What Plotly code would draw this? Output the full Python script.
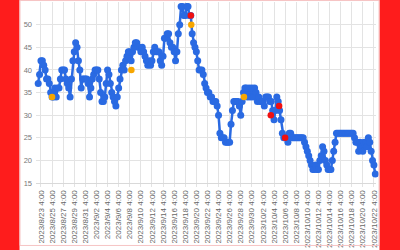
import pandas as pd
import plotly.graph_objects as go

# ---- data (6-hour steps starting 2023-08-22 16:00) ----
start_time = "2023-08-22 16:00"
values = [
    37, 39,
    42, 42, 41, 40,   38, 38, 37, 35,   34, 34, 36, 34,   36, 36, 38, 40,
    40, 40, 38, 37,   36, 34, 38, 42,   44, 46, 45, 42,   40, 36, 38, 38,
    38, 38, 37, 34,   36, 38, 39, 40,   40, 40, 38, 35,   33, 33, 34, 37,
    40, 39, 37, 35,   34, 33, 32, 34,   36, 38, 40, 41,   40, 42, 43, 44,
    44, 42, 44, 45,   46, 46, 45, 45,   44, 45, 44, 43,   42, 41, 42, 41,
    42, 44, 45, 44,   44, 44, 42, 41,   43, 47, 47, 48,   48, 46, 45, 45,
    44, 42, 44, 48,   50, 54, 54, 52,   52, 54, 54, 52,   52, 48, 46, 45,
    44, 42, 40, 40,   40, 39, 37, 36,   35, 35, 34, 34,   33, 33, 33, 32,
    30, 26, 25, 25,   25, 24, 24, 24,   24, 28, 31, 33,   33, 33, 33, 32,
    30, 33, 35, 36,   36, 34, 36, 34,   36, 34, 36, 35,   33, 34, 33, 33,
    33, 32, 34, 34,   34, 33, 33, 31,   29, 31, 34, 33,   31, 29, 26, 25,
    25, 25, 24, 26,   26, 25, 25, 25,   25, 25, 25, 25,   25, 25, 24, 23,
    22, 21, 20, 19,   18, 18, 19, 18,   18, 20, 21, 23,   22, 20, 19, 18,
    18, 18, 20, 22,   24, 26, 26, 26,   26, 26, 26, 26,   26, 26, 26, 26,
    26, 26, 25, 24,   24, 22, 24, 23,   22, 24, 24, 23,   25, 24, 22, 20,
    19, 17,
]
red_times = ["2023-09-19 04:00", "2023-10-03 14:00", "2023-10-05 02:00", "2023-10-06 04:00"]
red_values = [52, 30, 32, 25]
orange_times = ["2023-08-25 04:00", "2023-09-08 11:00", "2023-09-19 06:00", "2023-09-28 18:00"]
orange_values = [34, 40, 50, 34]
tick_dates = pd.date_range("2023-08-23 04:00", "2023-10-22 04:00", freq="2D")
tick_labels = [f"{d.year}/{d.month}/{d.day} {d.hour}:{d.minute:02d}" for d in tick_dates]

times = pd.date_range(start_time, periods=len(values), freq="6h")

BLUE = "#2a6ae2"
fig = go.Figure()
fig.add_trace(go.Scatter(
    x=times, y=values, mode="lines+markers",
    line=dict(color=BLUE, width=2.5),
    marker=dict(color=BLUE, size=7),
    cliponaxis=False, showlegend=False,
))
fig.add_trace(go.Scatter(
    x=orange_times, y=orange_values, mode="markers",
    marker=dict(color="#f7a600", size=6.5), cliponaxis=False, showlegend=False,
))
fig.add_trace(go.Scatter(
    x=red_times, y=red_values, mode="markers",
    marker=dict(color="#f01010", size=6.5), cliponaxis=False, showlegend=False,
))

L, R, T, B = 36, 24, 2, 64
W, H = 400, 250
pw, ph = W - L - R, H - T - B
def px2x(px):
    return (px - L) / pw
def py2y(py):
    return (H - B - py) / ph

shapes = [
    dict(type="rect", xref="paper", yref="paper", x0=px2x(-2), x1=px2x(19.5),
         y0=py2y(260), y1=py2y(-10), fillcolor="#fe1c1c", line=dict(width=0), layer="above"),
    dict(type="rect", xref="paper", yref="paper", x0=px2x(379.5), x1=px2x(402),
         y0=py2y(260), y1=py2y(-10), fillcolor="#fe1c1c", line=dict(width=0), layer="above"),
    dict(type="rect", xref="paper", yref="paper", x0=px2x(20), x1=px2x(379),
         y0=py2y(249.5), y1=py2y(0.5), fillcolor="rgba(0,0,0,0)",
         line=dict(color="#f6c4c4", width=1), layer="above"),
]

fig.update_layout(
    width=W, height=H,
    margin=dict(l=L, r=R, t=T, b=B, pad=0),
    paper_bgcolor="white", plot_bgcolor="white",
    shapes=shapes,
    font=dict(family="Liberation Sans", color="#6b6b6b"),
)
fig.update_xaxes(
    type="date",
    range=["2023-08-22 06:30", "2023-10-22 13:00"],
    tickvals=list(tick_dates), ticktext=tick_labels,
    tickangle=-90, tickfont=dict(size=8, color="#666666"),
    showgrid=True, gridcolor="#e3e3e3", gridwidth=1,
    ticks="outside", ticklen=3, tickcolor="#e3e3e3",
    showline=True, linecolor="#d9d9d9", zeroline=False,
)
fig.update_yaxes(
    range=[15, 55], tickvals=[15, 20, 25, 30, 35, 40, 45, 50],
    ticktext=["15", "20", "25", "30", "35", "40", "45", "50"],
    tickfont=dict(size=7.5, color="#777777"),
    showgrid=True, gridcolor="#e3e3e3", gridwidth=1,
    showline=False, zeroline=False, ticks="", ticklabelstandoff=3,
)

fig.write_html("out.html")
